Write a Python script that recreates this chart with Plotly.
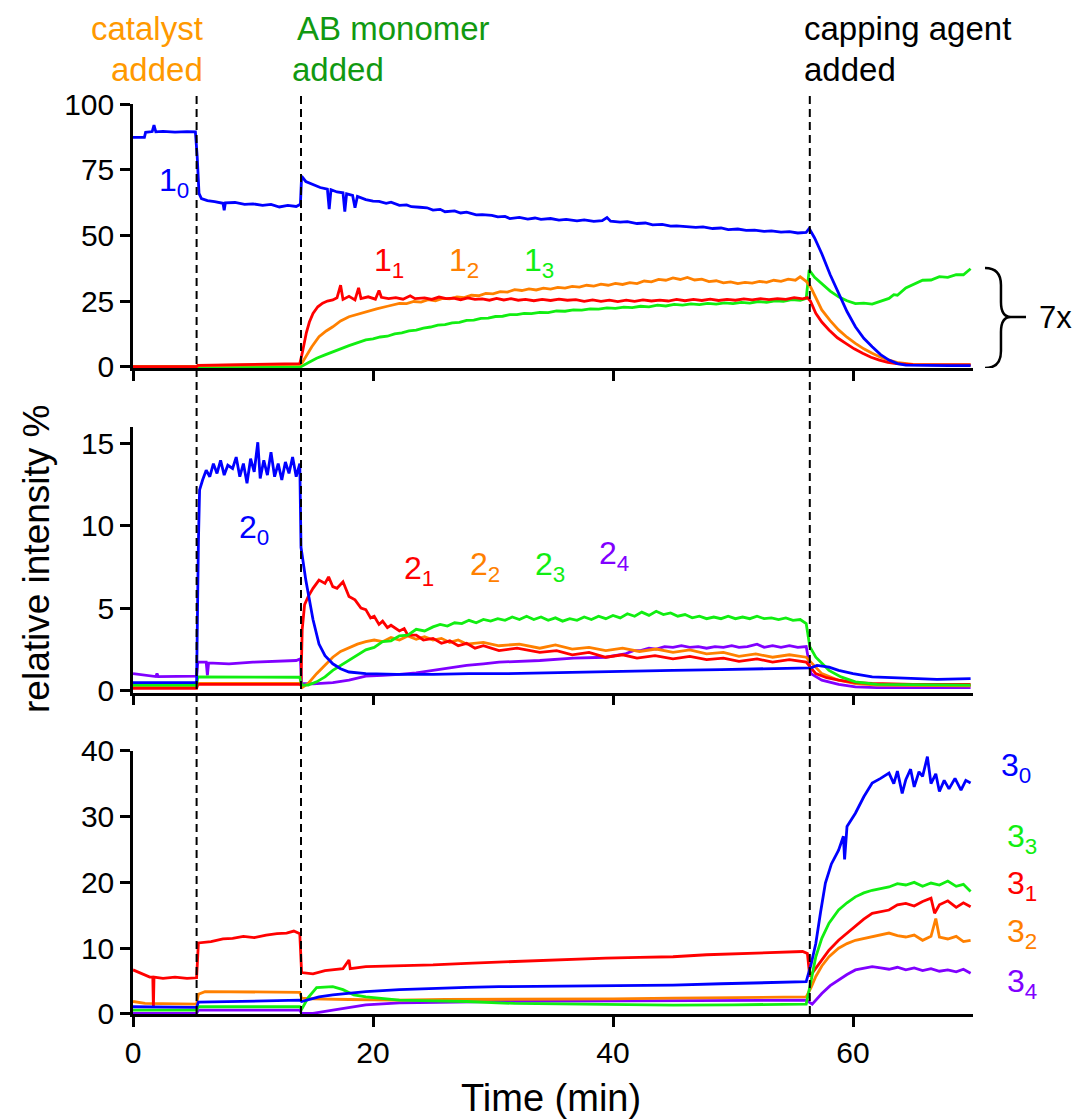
import plotly.graph_objects as go

# ---------------- data (time in min, relative intensity %) ----------------
EVENTS = [5.3, 14.0, 56.4]  # catalyst added, AB monomer added, capping agent added

S1_0 = [(0,87.3),(0.95,87.3),(1.05,89.2),(1.6,89.5),(1.75,92),(1.9,89.4),(2.5,89.6),(3.5,89.3),(4.5,89.5),(5.2,89.4),
        (5.35,80),(5.5,66),(5.7,64),(6.2,63.2),(6.8,62.8),(7.5,62.2),(7.6,59.5),(7.7,62.4),(8.5,62.5),(9.3,61.8),(10,62),
        (10.8,61.4),(11.5,61.8),(12.2,60.8),(12.9,61.4),(13.6,61),(13.95,61.8),(14.05,72.5),(14.4,70.5),(15,69.5),(15.6,68.2),
        (16.2,67.6),(16.35,60),(16.5,67.4),(17,66.5),(17.5,66.2),(17.65,59),(17.8,65.8),(18.3,65.2),(18.5,60.5),(18.7,64.8),
        (19.4,63.6),(20.0,63.0),(20.5,62.9),(21.1,62.2),(21.5,62.6),(22.2,61.4),(22.8,61.6),(23.2,60.9),(23.9,60.7),(24.5,60.5),
        (25.0,59.6),(25.6,59.9),(26.0,59.0),(26.8,59.3),(27.3,58.5),(27.8,58.8),(28.6,57.8),(29.1,57.9),(29.9,57.6),(30.4,57.0),
        (31.0,57.2),(31.4,56.4),(32.2,56.8),(32.9,56.2),(33.5,56.6),(34.0,56.1),(34.8,56.4),(35.5,55.8),(36.1,56.1),(37.0,55.5),
        (37.6,55.9),(38.4,55.3),(39.1,55.6),(39.5,56.8),(39.8,55.4),(40.6,55.0),(41.2,55.2),(42.0,54.5),(42.7,54.7),(43.3,54.0),
        (44.1,54.2),(44.8,53.5),(45.3,53.6),(46.0,53.3),(46.9,53.0),(47.5,53.2),(48.3,52.6),(49.0,52.8),(49.6,52.2),(50.4,52.4),
        (51.1,51.9),(51.8,52.0),(52.6,51.5),(53.2,51.7),(54.0,51.2),(54.7,51.4),(55.4,50.9),(56.1,51.1),(56.35,52.6),(56.8,49),
        (57.4,43),(58.1,35),(58.8,28),(59.5,21),(60.2,15.2),(60.9,10.8),(61.6,7.6),(62.3,4.6),(63,2.5),(63.7,1.2),(64.4,0.6),
        (66,0.4),(68,0.4),(69.8,0.4)]
S1_1 = [(0,0),(5.3,0),(5.4,0.5),(8,0.7),(11,0.9),(13.9,1.2),(14.05,4),(14.25,9),(14.45,13),(14.7,17),(15,20.3),(15.4,22.8),
        (15.8,24.2),(16.2,25),(16.65,25.4),(17,26.2),(17.3,31),(17.5,25.6),(18.0,26.8),(18.5,25.4),(18.8,30),(19.0,25.9),
        (19.6,26.6),(20.2,25.7),(20.5,29),(20.7,26.4),(21.3,25.9),(21.9,26.3),(22.5,25.7),(23.1,27.0),(23.5,25.9),(24.3,26.2),
        (24.9,25.6),(25.5,26.5),(26.1,25.9),(26.7,26.1),(27.3,25.5),(27.9,26.2),(28.5,25.6),(29.1,25.8),(29.7,25.3),(30.3,26.0),
        (30.9,25.4),(31.5,25.9),(32.1,25.3),(32.7,25.6),(33.4,25.1),(34.1,25.6),(34.8,25.2),(35.5,25.7),(36.2,25.3),(36.9,25.5),
        (37.6,24.9),(38.3,25.4),(39.0,24.9),(39.7,25.3),(40.4,24.8),(41.1,25.3),(41.8,24.9),(42.5,25.4),(43.2,25.0),(43.9,25.3),
        (44.6,25.0),(45.3,25.6),(46.0,25.1),(46.7,25.6),(47.4,25.2),(48.1,25.7),(48.8,25.2),(49.5,25.6),(50.2,25.3),(50.9,25.8),
        (51.6,25.4),(52.3,25.9),(53.0,25.5),(53.7,25.9),(54.4,25.6),(55.1,26.3),(55.8,25.8),(56.2,26.3),(56.45,25),(56.9,20.3),
        (57.4,17),(58,14),(58.7,11),(59.4,8.9),(60.1,6.8),(60.8,5.1),(61.5,3.6),(62.2,2.5),(62.9,1.6),(63.6,1.2),(65,0.8),
        (67,0.7),(69.8,0.7)]
S1_2 = [(0,0),(5.3,0),(5.4,0.4),(9,0.6),(13.9,0.9),(14.1,1.5),(14.4,3.8),(14.9,7.6),(15.5,11.4),(16.1,13.6),(16.65,15.2),
        (17.3,17.4),(18,19),(18.7,20),(19.4,20.9),(20.3,22),(21.2,23),(22.2,24.1),(22.8,24.0),(23.4,24.8),(24.0,24.6),
        (24.6,25.5),(25.2,25.1),(25.8,26.0),(26.4,25.8),(27.0,26.6),(27.6,26.3),(28.2,27.2),(28.8,27.0),(29.4,27.9),(30.0,27.7),
        (30.6,28.6),(31.2,28.4),(31.8,29.3),(32.4,29.0),(33.0,29.6),(33.6,29.2),(34.2,29.9),(34.8,29.5),(35.4,30.2),(36.0,29.9),
        (36.6,30.6),(37.2,30.3),(37.8,31.0),(38.4,30.7),(39.0,31.4),(39.6,31.0),(40.2,31.7),(40.8,31.3),(41.4,32.0),(42.0,31.6),
        (42.6,32.6),(43.2,32.3),(43.8,33.2),(44.4,32.9),(45.0,33.8),(45.6,33.2),(46.2,34.0),(46.8,33.0),(47.4,33.3),(48.0,32.4),
        (48.6,32.7),(49.2,31.9),(49.8,32.3),(50.4,31.6),(51.0,32.1),(51.6,31.8),(52.2,32.5),(52.8,32.1),(53.4,32.9),(54.0,32.5),
        (54.6,33.3),(55.2,32.9),(55.6,34.2),(56.1,32.5),(56.45,30.5),(57.4,21.6),(58.1,17.5),(58.8,14),(59.5,11.2),(60.2,8.9),
        (60.9,6.8),(61.6,5.1),(62.3,3.6),(63,2.5),(63.8,1.5),(65,0.9),(67,0.8),(69.8,0.8)]
S1_3 = [(0,0),(14,0),(14.6,1.5),(15.3,3.2),(16,4.5),(16.65,5.7),(18,8),(19.4,10.2),(20.0,10.6),(20.6,11.3),(21.2,11.6),
        (21.8,12.5),(22.4,12.9),(23.0,13.6),(23.6,13.9),(24.2,14.7),(24.8,15.1),(25.4,15.8),(26.0,16.0),(26.6,16.7),(27.2,16.9),
        (27.8,17.6),(28.4,17.7),(29.0,18.4),(29.6,18.5),(30.2,19.1),(30.8,19.2),(31.4,19.8),(32.0,19.8),(32.6,20.3),(33.2,20.2),
        (33.9,20.7),(34.6,20.6),(35.3,21.2),(36.0,21.1),(36.7,21.6),(37.4,21.5),(38.1,22.0),(38.8,21.9),(39.5,22.4),(40.2,22.2),
        (40.9,22.7),(41.6,22.5),(42.3,23.0),(43.0,22.8),(43.7,23.4),(44.4,23.1),(45.1,23.7),(45.8,23.4),(46.5,23.9),(47.2,23.6),
        (47.9,24.1),(48.6,23.8),(49.3,24.3),(50.0,24.0),(50.7,24.5),(51.4,24.2),(52.1,24.8),(52.8,24.5),(53.5,25.1),(54.2,24.9),
        (54.9,25.5),(55.6,25.3),(56.1,26.0),(56.35,36.8),(56.8,34),(57.4,31.7),(58.1,28.8),(58.8,26.6),(59.5,25.1),(60.2,24.0),
        (60.9,24.2),(61.6,23.8),(62.3,24.9),(63,26.0),(63.4,27.4),(63.7,27.2),(64.4,30.0),(65.1,31.3),(65.8,32.9),(66.5,33.0),
        (67.2,34.3),(67.9,34.0),(68.6,35.0),(69.2,35.0),(69.8,37.3)]

S2_0 = [(0,0.45),(5.3,0.45),(5.45,9),(5.55,12.2),(5.8,12.8),(6.1,13.4),(6.4,13.0),(6.7,13.8),(7.0,13.2),(7.3,14),(7.6,13.1),
        (7.9,13.7),(8.3,13.5),(8.6,14.2),(8.9,13),(9.2,13.8),(9.5,12.6),(9.8,14.1),(10.1,13.3),(10.4,15.1),(10.6,12.9),(10.9,14),
        (11.2,13.1),(11.5,14.5),(11.8,13),(12.1,13.8),(12.4,12.8),(12.7,13.9),(13.0,13.2),(13.3,14.2),(13.6,13.0),(13.9,13.8),
        (14.0,8.7),(14.4,6.7),(15,4.3),(15.5,2.8),(16,2.1),(16.65,1.6),(17.3,1.3),(18,1.1),(19.4,1.0),(22,0.95),(25,0.95),
        (28,1.0),(31,1.0),(34,1.05),(38,1.1),(42,1.15),(45,1.2),(49,1.25),(53,1.3),(56.1,1.3),(56.5,1.35),(57,1.5),(58,1.4),
        (58.8,1.2),(60,1.0),(61.6,0.8),(63,0.75),(64.4,0.7),(67,0.65),(69.8,0.7)]
S2_1 = [(0,0.1),(5.3,0.1),(5.4,0.35),(14,0.35),(14.1,3.7),(14.3,5.2),(14.6,5.7),(15,6.2),(15.5,6.7),(16,6.5),(16.3,6.9),
        (16.65,6.3),(17,6.2),(17.5,6.6),(18,5.7),(18.5,5.5),(19,5.0),(19.4,4.9),(19.8,4.4),(20.1,4.5),(20.5,4.0),(20.8,4.2),
        (21.2,3.8),(21.5,3.95),(22.2,3.6),(22.6,3.75),(22.9,3.35),(23.6,3.35),(24.2,3.05),(25,3.15),(25.7,2.85),(26.4,3.0),
        (27.1,2.7),(27.8,2.85),(28.5,2.55),(29.2,2.7),(30.5,2.4),(32,2.55),(33.9,2.3),(35.3,2.4),(36.6,2.15),(38,2.3),
        (39.4,2.0),(40.8,2.15),(42,1.95),(43.5,2.1),(45,1.9),(46.4,2.05),(47.8,1.85),(49.2,1.95),(50.5,1.75),(52,1.9),
        (53.3,1.7),(54.7,1.85),(56.1,1.7),(56.9,1.0),(57.8,0.75),(58.8,0.6),(60.2,0.45),(61.6,0.4),(65,0.35),(69.8,0.35)]
S2_2 = [(0,0.2),(5.3,0.2),(5.4,0.4),(13.9,0.4),(14.1,0.15),(14.6,0.4),(15.3,1.0),(16,1.5),(16.65,2.0),(17.3,2.35),(18,2.6),
        (18.7,2.8),(19.4,2.95),(20.1,3.05),(20.8,2.95),(21.5,3.2),(22.2,3.05),(22.9,3.3),(23.6,3.1),(24.3,3.25),(25,3.05),
        (25.7,3.15),(26.4,2.9),(27.1,3.05),(27.8,2.8),(29.2,2.9),(30.5,2.7),(32.2,2.8),(33.9,2.55),(35.2,2.75),(36.6,2.5),
        (38,2.6),(39.4,2.4),(40.8,2.55),(42.2,2.35),(43.6,2.5),(45,2.3),(46.4,2.45),(47.8,2.2),(49.2,2.3),(50.5,2.05),
        (51.9,2.2),(53.3,2.0),(54.7,2.15),(56.1,2.0),(56.6,1.6),(57.4,1.0),(58.8,0.6),(60.2,0.4),(62,0.3),(69.8,0.25)]
S2_3 = [(0,0.3),(5.3,0.3),(5.4,0.8),(13.9,0.78),(14.05,0.3),(14.6,0.3),(15.3,0.5),(16,0.8),(16.65,1.2),(17.3,1.5),(18,1.8),
        (18.7,2.1),(19.4,2.45),(20.1,2.6),(20.8,2.95),(21.5,3.0),(22.2,3.3),(22.9,3.35),(23.6,3.7),(24.3,3.6),(25,3.85),
        (25.6,4.0),(26.2,3.9),(26.8,4.1),(27.4,4.05),(28,4.25),(28.6,4.1),(29.2,4.3),(29.8,4.2),(30.4,4.35),(31,4.25),(31.6,4.45),
        (32.2,4.3),(32.8,4.5),(33.4,4.3),(34,4.45),(34.6,4.25),(35.2,4.4),(35.8,4.2),(36.4,4.35),(37,4.25),(37.6,4.45),(38.2,4.3),
        (38.8,4.5),(39.4,4.35),(40,4.55),(40.6,4.4),(41.2,4.65),(41.8,4.5),(42.4,4.75),(43,4.55),(43.6,4.8),(44.2,4.6),(44.8,4.7),
        (45.4,4.5),(46,4.6),(46.6,4.4),(47.2,4.5),(47.8,4.35),(48.4,4.45),(49,4.35),(49.6,4.5),(50.2,4.35),(50.8,4.45),(51.4,4.35),
        (52,4.5),(52.6,4.35),(53.2,4.4),(53.8,4.3),(54.4,4.4),(55,4.25),(55.6,4.3),(56.1,4.05),(56.4,2.65),(56.9,2.0),(58,1.2),
        (59,0.8),(60.2,0.5),(62,0.35),(69.8,0.3)]
S2_4 = [(0,1.0),(0.5,0.95),(1.2,0.85),(1.9,0.82),(2,1.0),(2.1,0.82),(5.3,0.85),(5.4,1.7),(6.1,1.7),(6.2,0.9),(6.3,1.65),
        (8,1.6),(10,1.7),(12,1.75),(13.6,1.8),(13.95,1.9),(14.05,0.4),(15,0.38),(16.65,0.45),(18,0.6),(19.4,0.85),(20.8,0.9),
        (22.2,0.95),(23.6,1.05),(25,1.2),(26.4,1.35),(27.8,1.5),(29.2,1.6),(30.5,1.7),(33.9,1.8),(36.7,1.95),(39.4,2.0),
        (41,2.2),(41.7,2.4),(42.3,2.4),(43,2.55),(43.6,2.5),(44.3,2.65),(45,2.6),(45.7,2.7),(46.4,2.6),(47.1,2.65),(47.8,2.55),
        (48.5,2.65),(49.2,2.6),(49.9,2.7),(50.5,2.6),(51.2,2.65),(52,2.8),(52.6,2.6),(53.3,2.7),(54,2.6),(54.7,2.7),(55.4,2.6),
        (56.1,2.65),(56.5,1.0),(57.4,0.6),(58.8,0.35),(60.2,0.2),(62,0.15),(69.8,0.15)]

S3_0 = [(0,1.1),(5.3,1.0),(5.45,1.8),(9,1.9),(13.9,2.1),(14.05,1.9),(14.6,2.2),(15.5,2.6),(16.65,2.9),(18,3.2),(19.4,3.4),
        (22.2,3.7),(25,3.9),(27.8,4.05),(30.5,4.15),(33.9,4.2),(37,4.3),(41,4.4),(45,4.4),(49,4.6),(53,4.75),(56.1,4.9),
        (56.5,7.5),(56.9,10.7),(57.3,15.5),(57.7,19.9),(58.2,22.8),(58.8,24.9),(59.2,27),(59.3,23.5),(59.5,28.5),(60.2,30.5),
        (60.9,33),(61.6,35.1),(62.3,35.8),(63,36.6),(63.4,35),(63.7,36.9),(64.1,33.5),(64.4,35.6),(64.8,37.2),(65.1,34.5),
        (65.5,36.8),(65.8,36.1),(66.2,39.1),(66.5,35),(66.9,36.5),(67.2,33.8),(67.6,35.5),(68,34.2),(68.5,35.8),(69,34),
        (69.4,35.5),(69.8,35.1)]
S3_1 = [(0,6.7),(1.0,5.9),(1.4,5.6),(1.65,5.6),(1.7,0.9),(1.75,5.6),(2.5,5.4),(3.5,5.6),(4.5,5.4),(5.3,5.5),(5.45,10.8),
        (6.5,11.0),(7.5,11.4),(8.3,11.5),(9.2,11.8),(10.1,11.6),(11.1,12.0),(12,12.2),(12.8,12.3),(13.4,12.6),(13.9,12.2),
        (14.05,6.3),(15,6.1),(16,6.6),(16.65,6.7),(17.5,6.9),(18,8.2),(18.1,6.9),(19.4,7.2),(22.2,7.3),(25,7.45),(27.8,7.7),
        (30.5,7.9),(33.9,8.2),(36.7,8.4),(39.4,8.5),(42.2,8.6),(45,8.7),(47.8,9.0),(50.5,9.2),(53.3,9.3),(55.8,9.5),(56.2,9.2),
        (56.4,5.7),(56.8,6.7),(57.2,7.7),(58,9.7),(58.8,11.2),(59.5,12.3),(60.2,13.3),(60.9,14.4),(61.6,15.3),(62.3,15.5),
        (63,15.8),(63.7,16.6),(64.4,16.8),(65.1,16.4),(65.8,17.1),(66.5,17.6),(66.8,15.3),(67.2,16.6),(67.9,17.2),(68.6,16.2),
        (69.2,16.9),(69.8,16.3)]
S3_2 = [(0,1.9),(1.0,1.6),(5.3,1.5),(5.45,3.0),(6,3.4),(10,3.3),(13.9,3.3),(14.05,2.4),(15,2.3),(18,2.2),(22,2.1),(26,2.2),
        (30,2.2),(35,2.3),(40,2.3),(45,2.4),(50,2.5),(56.1,2.6),(56.5,4),(56.9,5.7),(57.4,7.3),(58,8.7),(58.8,10.0),(59.5,10.7),
        (60.2,11.2),(60.9,11.5),(61.6,11.7),(62.3,12.0),(63,12.3),(63.7,11.9),(64.4,11.7),(65.1,12.0),(65.8,11.2),(66.5,11.8),
        (66.9,14.5),(67.2,11.7),(67.9,11.4),(68.6,11.8),(69.2,11.0),(69.8,11.2)]
S3_3 = [(0,0.6),(5.3,0.6),(5.45,1.1),(13.9,1.1),(14.05,0.7),(14.6,2.5),(15.3,4.0),(16.65,4.15),(17.5,3.7),(18.4,2.9),
        (19.4,2.6),(22.2,2.1),(25,2.0),(27.8,1.9),(31.8,1.6),(36,1.5),(40,1.4),(45,1.35),(50,1.4),(56.1,1.5),(56.5,5),
        (56.9,8.7),(57.4,11.5),(58,13.8),(58.8,15.8),(59.5,16.9),(60.2,17.8),(60.9,18.4),(61.6,18.8),(62.3,19.1),(63,19.3),
        (63.7,19.8),(64.4,19.6),(65.1,20),(65.8,19.4),(66.5,19.9),(67.2,19.6),(67.9,20.2),(68.6,19.4),(69.2,19.7),(69.8,18.6)]
S3_4 = [(0,0.1),(5.3,0.1),(5.45,0.6),(13.9,0.6),(14.05,0.1),(15,0.1),(16.65,0.6),(18,1.0),(19.4,1.4),(22.2,1.7),(25,1.8),
        (30,1.9),(35,1.95),(40,2.0),(45,2.05),(50,2.1),(56.1,2.1),(56.6,1.5),(57.4,3.1),(58.1,4.3),(58.8,5.2),(59.5,6.0),
        (60.2,6.7),(60.9,7.0),(61.6,7.2),(62.3,7.0),(63,6.8),(63.7,7.1),(64.4,6.7),(65.1,7.0),(65.8,6.6),(66.5,6.9),(67.2,6.5),
        (67.9,6.7),(68.6,6.4),(69.2,6.8),(69.8,6.2)]

X_TICKS = [0, 20, 40, 60]
Y1_TICKS = [0, 25, 50, 75, 100]
Y2_TICKS = [0, 5, 10, 15]
Y3_TICKS = [0, 10, 20, 30, 40]

# ---------------- styling ----------------
FONT = "Arial, Liberation Sans, Helvetica, sans-serif"
BLUE, RED, ORANGE, GREEN, PURPLE = "#0000FF", "#FF0000", "#FF8000", "#11EE11", "#8000FF"
LW = 2.8

fig = go.Figure()

def add(series, color, xa, ya):
    fig.add_trace(go.Scatter(x=[p[0] for p in series], y=[p[1] for p in series], mode="lines",
                             line=dict(color=color, width=LW), xaxis=xa, yaxis=ya,
                             showlegend=False, hoverinfo="skip"))

add(S1_3, GREEN, "x", "y"); add(S1_2, ORANGE, "x", "y"); add(S1_1, RED, "x", "y"); add(S1_0, BLUE, "x", "y")
add(S2_4, PURPLE, "x2", "y2"); add(S2_2, ORANGE, "x2", "y2"); add(S2_1, RED, "x2", "y2")
add(S2_3, GREEN, "x2", "y2"); add(S2_0, BLUE, "x2", "y2")
add(S3_4, PURPLE, "x3", "y3"); add(S3_2, ORANGE, "x3", "y3"); add(S3_1, RED, "x3", "y3")
add(S3_3, GREEN, "x3", "y3"); add(S3_0, BLUE, "x3", "y3")

tickfont = dict(family=FONT, size=30, color="black")
def xax(anchor, labels):
    return dict(anchor=anchor, domain=[0, 1], range=[0, 70], tickvals=X_TICKS, showticklabels=labels,
                ticks="outside", ticklen=10, tickwidth=2.5, tickcolor="black", showline=True, linewidth=2.5,
                linecolor="black", showgrid=False, zeroline=False, tickfont=tickfont)
def yax(anchor, dom, rng, tv):
    return dict(anchor=anchor, domain=dom, range=rng, tickvals=tv, ticks="outside", ticklen=10, tickwidth=2.5,
                tickcolor="black", showline=True, linewidth=2.5, linecolor="black", showgrid=False,
                zeroline=False, tickfont=tickfont)

ann = []
def lab(text, x, y, color, xref, yref, size=32, xanchor="left"):
    ann.append(dict(text=text, x=x, y=y, xref=xref, yref=yref, xanchor=xanchor, yanchor="middle",
                    showarrow=False, font=dict(family=FONT, size=size, color=color)))

# series labels
lab("1<sub>0</sub>", 2.0, 70, BLUE, "x", "y")
lab("1<sub>1</sub>", 19.9, 39.5, RED, "x", "y")
lab("1<sub>2</sub>", 26.2, 39.5, ORANGE, "x", "y")
lab("1<sub>3</sub>", 32.4, 39.5, GREEN, "x", "y")
lab("2<sub>0</sub>", 8.7, 9.8, BLUE, "x2", "y2")
lab("2<sub>1</sub>", 22.4, 7.3, RED, "x2", "y2")
lab("2<sub>2</sub>", 27.9, 7.5, ORANGE, "x2", "y2")
lab("2<sub>3</sub>", 33.3, 7.5, GREEN, "x2", "y2")
lab("2<sub>4</sub>", 38.7, 8.2, PURPLE, "x2", "y2")
lab("3<sub>0</sub>", 1.031, 37.4, BLUE, "paper", "y3")
lab("3<sub>3</sub>", 1.038, 26.7, GREEN, "paper", "y3")
lab("3<sub>1</sub>", 1.038, 19.5, RED, "paper", "y3")
lab("3<sub>2</sub>", 1.038, 12.2, ORANGE, "paper", "y3")
lab("3<sub>4</sub>", 1.038, 4.6, PURPLE, "paper", "y3")

# event labels
lab("catalyst", 0.0857, 1.0835, "#FF9900", "paper", "paper", 33, "right")
lab("added", 0.0857, 1.0374, "#FF9900", "paper", "paper", 33, "right")
lab("AB monomer", 0.1929, 1.0835, "#119911", "paper", "paper", 33)
lab("added", 0.1869, 1.0374, "#119911", "paper", "paper", 33)
lab("capping agent", 0.7964, 1.0835, "black", "paper", "paper", 33)
lab("added", 0.7964, 1.0374, "black", "paper", "paper", 33)
lab("7x", 1.0988, 18.9, "black", "paper", "y", 31, "center")

# axis titles
ann.append(dict(text="relative intensity %", x=-0.1155, y=0.50, xref="paper", yref="paper", textangle=-90,
                showarrow=False, xanchor="center", yanchor="middle", font=dict(family=FONT, size=37, color="black")))
ann.append(dict(text="Time (min)", x=0.4976, y=-0.092, xref="paper", yref="paper", showarrow=False,
                xanchor="center", yanchor="middle", font=dict(family=FONT, size=38, color="black")))

shapes = []
for t in EVENTS:
    shapes.append(dict(type="line", xref="x3", yref="paper", x0=t, x1=t, y0=0, y1=1.01,
                       line=dict(color="black", width=2, dash="8px,5px"), layer="above"))

# curly brace spanning the top panel's minor traces (x in paper, y in data units of panel 1)
bx0, bx1, bx2, bx3 = 1.0143, 1.0333, 1.0450, 1.0631
brace = (f"M {bx0},37.6 Q {bx1},37.6 {bx1},31.1 L {bx1},24.6 Q {bx1},18.9 {bx2},18.9 "
         f"Q {bx1},18.9 {bx1},13.2 L {bx1},6.0 Q {bx1},-0.5 {bx0},-0.5 "
         f"M {bx2},18.9 L {bx3},18.9")
shapes.append(dict(type="path", xref="paper", yref="y", path=brace, line=dict(color="black", width=2.5)))

fig.update_layout(
    width=1077, height=1120, margin=dict(l=133, r=104, t=104, b=106),
    paper_bgcolor="white", plot_bgcolor="white", showlegend=False,
    xaxis=xax("y", False), yaxis=yax("x", [0.7099, 1.0], [-0.5, 100], Y1_TICKS),
    xaxis2=xax("y2", False), yaxis2=yax("x2", [0.3531, 0.6454], [-0.16, 16.05], Y2_TICKS),
    xaxis3=xax("y3", True), yaxis3=yax("x3", [0.0, 0.2893], [0, 40], Y3_TICKS),
    annotations=ann, shapes=shapes, font=dict(family=FONT),
)

# remove the default page margin so the 1077x1120 figure fills the window exactly
fig.write_html("out.html", config={"displayModeBar": False},
               post_script="document.body.style.margin='0';document.body.style.overflow='hidden';")
